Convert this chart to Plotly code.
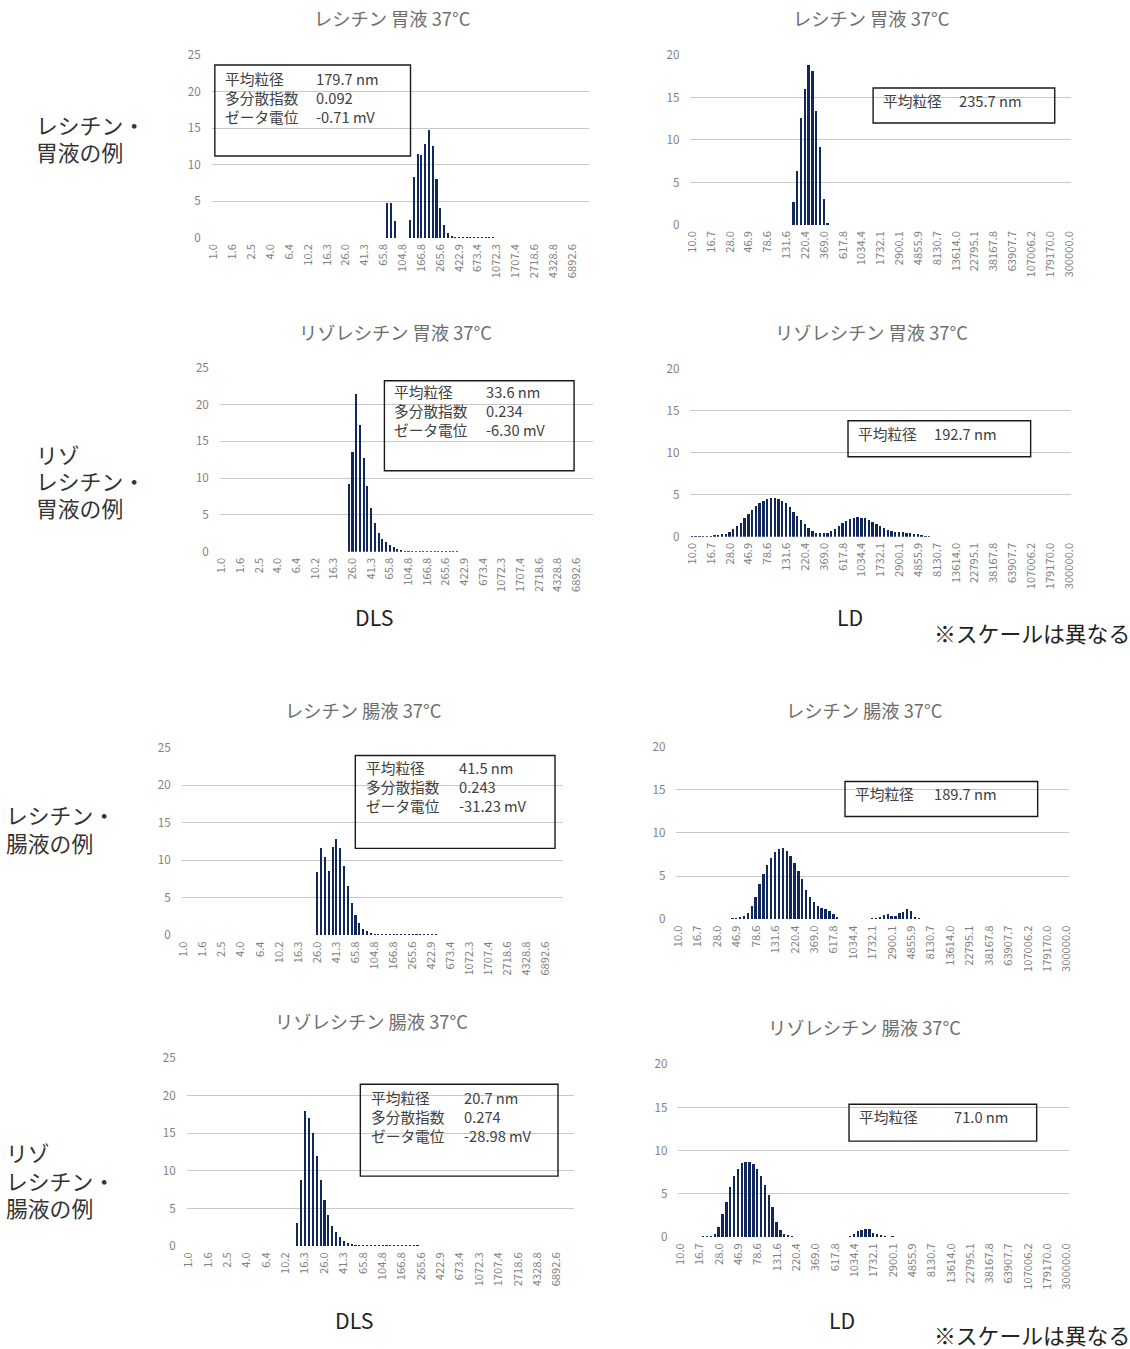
import plotly.graph_objects as go

# ---------------------------------------------------------------------------
# Axis tick labels (every 5th size bin, nm)
# ---------------------------------------------------------------------------
DLS_TICK_LABELS = ["1.0", "1.6", "2.5", "4.0", "6.4", "10.2", "16.3", "26.0", "41.3", "65.8",
                   "104.8", "166.8", "265.6", "422.9", "673.4", "1072.3", "1707.4", "2718.6",
                   "4328.8", "6892.6"]
LD_TICK_LABELS = ["10.0", "16.7", "28.0", "46.9", "78.6", "131.6", "220.4", "369.0", "617.8",
                  "1034.4", "1732.1", "2900.1", "4855.9", "8130.7", "13614.0", "22795.1",
                  "38167.8", "63907.7", "107006.2", "179170.0", "300000.0"]
DLS_BIN_COUNT = 100
LD_BIN_COUNT = 101

# ---------------------------------------------------------------------------
# Size distributions (%), each list starts at the given bin index
# ---------------------------------------------------------------------------
LEC_GASTRIC_DLS_START = 46
LEC_GASTRIC_DLS = [4.8, 4.8, 2.3, 0, 0, 0, 2.4, 8.3, 11.4, 11.3, 12.9, 14.8, 12.5, 8.0, 4.1,
                   1.8, 0.7, 0.3, 0.1, 0.1, 0.1, 0.1, 0.1, 0.1, 0.1, 0.1, 0.1, 0.1, 0.1]

LEC_GASTRIC_LD_START = 27
LEC_GASTRIC_LD = [2.75, 6.3, 12.6, 16.0, 18.8, 18.1, 13.4, 9.2, 3.1, 0.25]

LYSO_GASTRIC_DLS_START = 34
LYSO_GASTRIC_DLS = [9.2, 13.6, 21.4, 17.3, 12.7, 8.9, 5.9, 3.9, 2.5, 1.8, 1.3, 0.9, 0.6, 0.4,
                    0.2, 0.1, 0.1, 0.1, 0.1, 0.1, 0.1, 0.1, 0.1, 0.1, 0.1, 0.1, 0.1, 0.1,
                    0.1, 0.1]

LYSO_GASTRIC_LD_START = 0
LYSO_GASTRIC_LD = [0.05, 0.05, 0.05, 0.05, 0.05, 0.1, 0.15, 0.2, 0.3, 0.4,
                   0.6, 0.9, 1.3, 1.7, 2.2, 2.7, 3.2, 3.7, 4.0, 4.3,
                   4.5, 4.6, 4.6, 4.5, 4.3, 4.0, 3.5, 3.0, 2.5, 2.0,
                   1.5, 1.0, 0.7, 0.5, 0.5, 0.5, 0.5, 0.7, 0.9, 1.3,
                   1.6, 1.9, 2.1, 2.3, 2.4, 2.3, 2.2, 2.0, 1.8, 1.5,
                   1.3, 1.0, 0.8, 0.7, 0.6, 0.6, 0.6, 0.5, 0.5, 0.4,
                   0.3, 0.2, 0.1, 0.05]

LEC_INTESTINAL_DLS_START = 35
LEC_INTESTINAL_DLS = [8.4, 11.5, 10.3, 8.5, 11.7, 12.7, 11.6, 9.2, 6.5, 4.3, 2.6, 1.6, 0.8,
                      0.45, 0.2, 0.1, 0.1, 0.1, 0.1, 0.1, 0.1, 0.1, 0.1, 0.1, 0.1, 0.1, 0.1,
                      0.1, 0.1, 0.1, 0.1, 0.1]

LEC_INTESTINAL_LD_START = 14
LEC_INTESTINAL_LD = [0.05, 0.05, 0.1, 0.3, 0.7, 1.5, 2.5, 4.0, 5.2, 6.2,
                     7.0, 7.7, 8.1, 8.2, 7.9, 7.3, 6.5, 5.5, 4.6, 3.3,
                     2.5, 1.9, 1.5, 1.3, 1.1, 0.9, 0.6, 0.1,
                     0, 0, 0, 0, 0, 0, 0, 0,
                     0.05, 0.05, 0.15, 0.5, 0.6, 0.35, 0.35, 0.7, 0.85, 1.1, 0.9, 0.25, 0.05]

LYSO_INTESTINAL_DLS_START = 28
LYSO_INTESTINAL_DLS = [3.1, 8.7, 18.0, 17.0, 15.0, 11.9, 8.8, 6.1, 4.1, 2.7, 1.8, 1.15, 0.6,
                       0.35, 0.2, 0.1, 0.1, 0.1, 0.1, 0.1, 0.1, 0.1, 0.1, 0.1, 0.1, 0.1, 0.1,
                       0.1, 0.1, 0.1, 0.1, 0.1]

LYSO_INTESTINAL_LD_START = 6
LYSO_INTESTINAL_LD = [0.05, 0.05, 0.05, 0.3, 1.1, 2.6, 4.0, 5.8, 7.0, 7.8,
                      8.5, 8.7, 8.7, 8.4, 7.8, 7.0, 6.0, 4.8, 3.5, 1.7,
                      0.8, 0.35, 0.1, 0.05,
                      0, 0, 0, 0, 0, 0, 0, 0, 0, 0, 0, 0, 0, 0,
                      0.05, 0.3, 0.65, 0.85, 0.95, 0.9, 0.5, 0.3, 0.1, 0.05, 0, 0.05]

# Measurement summaries shown in each panel's text box
LEC_GASTRIC_DLS_STATS = ["179.7 nm", "0.092", "-0.71 mV"]
LYSO_GASTRIC_DLS_STATS = ["33.6 nm", "0.234", "-6.30 mV"]
LEC_INTESTINAL_DLS_STATS = ["41.5 nm", "0.243", "-31.23 mV"]
LYSO_INTESTINAL_DLS_STATS = ["20.7 nm", "0.274", "-28.98 mV"]
LEC_GASTRIC_LD_MEAN = "235.7 nm"
LYSO_GASTRIC_LD_MEAN = "192.7 nm"
LEC_INTESTINAL_LD_MEAN = "189.7 nm"
LYSO_INTESTINAL_LD_MEAN = "71.0 nm"
DLS_STAT_NAMES = ["平均粒径", "多分散指数", "ゼータ電位"]

# ---------------------------------------------------------------------------
# Page layout. Positions below are in display pixels of a 1130 x 1349 view.
# The page is shown with its 8px body margin inside a 1146 x 1365 area
# scaled down to the view, so positions are mapped back into figure pixels.
# ---------------------------------------------------------------------------
VIEW_W, VIEW_H = 1130, 1349
BODY_MARGIN = 8
SX = (VIEW_W + 2 * BODY_MARGIN) / VIEW_W
SY = (VIEW_H + 2 * BODY_MARGIN) / VIEW_H
W = VIEW_W + BODY_MARGIN
H = VIEW_H + BODY_MARGIN
FS = SX  # font scale

FONT = "Noto Sans CJK JP"
BAR_COLOR = "#10285c"
GRID_COLOR = "#c8c8c8"
TICK_COLOR = "#7f7f7f"
TITLE_COLOR = "#6e6e6e"
TEXT_COLOR = "#404040"
LABEL_COLOR = "#333333"

PANELS = [
    dict(kind="DLS", start=LEC_GASTRIC_DLS_START, values=LEC_GASTRIC_DLS, ymax=25,
         x=(212, 588), y=(53, 236), title="レシチン 胃液 37°C", title_at=(392, 16),
         box=(215, 63, 410, 154), stats=LEC_GASTRIC_DLS_STATS,
         text_x=(223, 314), text_y=95),
    dict(kind="LD", start=LEC_GASTRIC_LD_START, values=LEC_GASTRIC_LD, ymax=20,
         x=(689, 1068), y=(53, 223), title="レシチン 胃液 37°C", title_at=(869, 16),
         box=(871, 86, 1052, 121), mean=LEC_GASTRIC_LD_MEAN,
         text_x=(879, 955), text_y=98),
    dict(kind="DLS", start=LYSO_GASTRIC_DLS_START, values=LYSO_GASTRIC_DLS, ymax=25,
         x=(220, 592), y=(366, 550), title="リゾレシチン 胃液 37°C", title_at=(395, 330),
         box=(384, 379, 573, 469), stats=LYSO_GASTRIC_DLS_STATS,
         text_x=(392, 483), text_y=409),
    dict(kind="LD", start=LYSO_GASTRIC_LD_START, values=LYSO_GASTRIC_LD, ymax=20,
         x=(689, 1068), y=(367, 535), title="リゾレシチン 胃液 37°C", title_at=(869, 330),
         box=(846, 419, 1028, 455), mean=LYSO_GASTRIC_LD_MEAN,
         text_x=(854, 930), text_y=432),
    dict(kind="DLS", start=LEC_INTESTINAL_DLS_START, values=LEC_INTESTINAL_DLS, ymax=25,
         x=(182, 562), y=(746, 934), title="レシチン 腸液 37°C", title_at=(363, 708),
         box=(355, 754, 554, 847), stats=LEC_INTESTINAL_DLS_STATS,
         text_x=(364, 456), text_y=785),
    dict(kind="LD", start=LEC_INTESTINAL_LD_START, values=LEC_INTESTINAL_LD, ymax=20,
         x=(675, 1066), y=(745, 918), title="レシチン 腸液 37°C", title_at=(862, 708),
         box=(843, 780, 1035, 815), mean=LEC_INTESTINAL_LD_MEAN,
         text_x=(851, 930), text_y=792),
    dict(kind="DLS", start=LYSO_INTESTINAL_DLS_START, values=LYSO_INTESTINAL_DLS, ymax=25,
         x=(187, 573), y=(1057, 1245), title="リゾレシチン 腸液 37°C", title_at=(371, 1020),
         box=(360, 1083, 557, 1175), stats=LYSO_INTESTINAL_DLS_STATS,
         text_x=(369, 461), text_y=1115),
    dict(kind="LD", start=LYSO_INTESTINAL_LD_START, values=LYSO_INTESTINAL_LD, ymax=20,
         x=(677, 1066), y=(1063, 1236), title="リゾレシチン 腸液 37°C", title_at=(862, 1026),
         box=(847, 1103, 1034, 1140), mean=LYSO_INTESTINAL_LD_MEAN,
         text_x=(855, 950), text_y=1115),
]


def fx(px):
    return (px * SX - BODY_MARGIN) / W


def fy(py):
    return 1 - (py * SY - BODY_MARGIN) / H


fig = go.Figure()
annotations = []
shapes = []

for k, p in enumerate(PANELS, start=1):
    suffix = "" if k == 1 else str(k)
    vals = p["values"]
    xs = list(range(p["start"], p["start"] + len(vals)))
    is_dls = p["kind"] == "DLS"
    fig.add_trace(go.Bar(
        x=xs, y=vals, xaxis="x" + suffix, yaxis="y" + suffix,
        marker=dict(color=BAR_COLOR, line=dict(width=0)),
        width=0.55 if is_dls else 0.62,
        showlegend=False, hoverinfo="x+y",
    ))

    nbins, labels = (DLS_BIN_COUNT, DLS_TICK_LABELS) if is_dls else (LD_BIN_COUNT, LD_TICK_LABELS)

    fig.layout["xaxis" + suffix] = dict(
        domain=[fx(p["x"][0]), fx(p["x"][1])], anchor="y" + suffix,
        range=[-0.5, nbins - 0.5], tickmode="array",
        tickvals=list(range(0, nbins, 5)), ticktext=labels,
        tickangle=-90, tickfont=dict(family=FONT, size=11 * FS, color=TICK_COLOR),
        showgrid=False, zeroline=False, showline=False, ticks="",
        ticklabelstandoff=3, fixedrange=True,
    )
    fig.layout["yaxis" + suffix] = dict(
        domain=[fy(p["y"][1]), fy(p["y"][0])], anchor="x" + suffix,
        range=[0, p["ymax"]], tickmode="linear", tick0=0, dtick=5,
        tickfont=dict(family=FONT, size=11.5 * FS, color=TICK_COLOR),
        showgrid=True, gridcolor=GRID_COLOR, gridwidth=1.2,
        zeroline=False, showline=False, ticks="", ticklabelstandoff=10,
        fixedrange=True,
    )

    # chart title
    annotations.append(dict(
        x=fx(p["title_at"][0]), y=fy(p["title_at"][1]), xref="paper", yref="paper",
        text=p["title"], showarrow=False, xanchor="center", yanchor="middle",
        font=dict(family=FONT, size=18 * FS, color=TITLE_COLOR),
    ))

    # summary text box: one column of names, one column of values
    x0, y0, x1, y1 = p["box"]
    shapes.append(dict(
        type="rect", xref="paper", yref="paper",
        x0=fx(x0), x1=fx(x1), y0=fy(y1), y1=fy(y0),
        line=dict(color="#1a1a1a", width=1.4), fillcolor="rgba(255,255,255,0)",
    ))
    if is_dls:
        names, values = DLS_STAT_NAMES, p["stats"]
    else:
        names, values = DLS_STAT_NAMES[:1], [p["mean"]]
    for col, tx in ((names, p["text_x"][0]), (values, p["text_x"][1])):
        annotations.append(dict(
            x=fx(tx), y=fy(p["text_y"]), xref="paper", yref="paper",
            text="<br>".join(col), showarrow=False, xanchor="left",
            yanchor="middle", align="left",
            font=dict(family=FONT, size=14.5 * FS, color=TEXT_COLOR),
        ))

# row labels (one annotation per line), method labels and notes
ROW_LABEL_LINES = [
    ("レシチン・", 35, 123), ("胃液の例", 35, 150),
    ("リゾ", 35, 453), ("レシチン・", 35, 479), ("胃液の例", 35, 506),
    ("レシチン・", 5, 813), ("腸液の例", 5, 841),
    ("リゾ", 5, 1151), ("レシチン・", 5, 1179), ("腸液の例", 5, 1206),
]
for txt, x, y in ROW_LABEL_LINES:
    annotations.append(dict(
        x=fx(x), y=fy(y), xref="paper", yref="paper", text=txt, showarrow=False,
        xanchor="left", yanchor="middle", align="left",
        font=dict(family=FONT, size=21.5 * FS, color=LABEL_COLOR),
    ))

METHOD_LABELS = [("DLS", 374, 615), ("LD", 848, 615), ("DLS", 354, 1318), ("LD", 840, 1318)]
for txt, x, y in METHOD_LABELS:
    annotations.append(dict(
        x=fx(x), y=fy(y), xref="paper", yref="paper", text=txt, showarrow=False,
        xanchor="center", yanchor="middle",
        font=dict(family=FONT, size=21 * FS, color="#222222"),
    ))

for y in (631, 1333):
    annotations.append(dict(
        x=fx(1129), y=fy(y), xref="paper", yref="paper", text="※スケールは異なる",
        showarrow=False, xanchor="right", yanchor="middle",
        font=dict(family=FONT, size=21.5 * FS, color="#222222"),
    ))

fig.update_layout(
    width=W, height=H, margin=dict(l=0, r=0, t=0, b=0),
    paper_bgcolor="white", plot_bgcolor="white",
    annotations=annotations, shapes=shapes, bargap=0,
    font=dict(family=FONT),
)

fig.write_html("out.html", config={"displayModeBar": False})
